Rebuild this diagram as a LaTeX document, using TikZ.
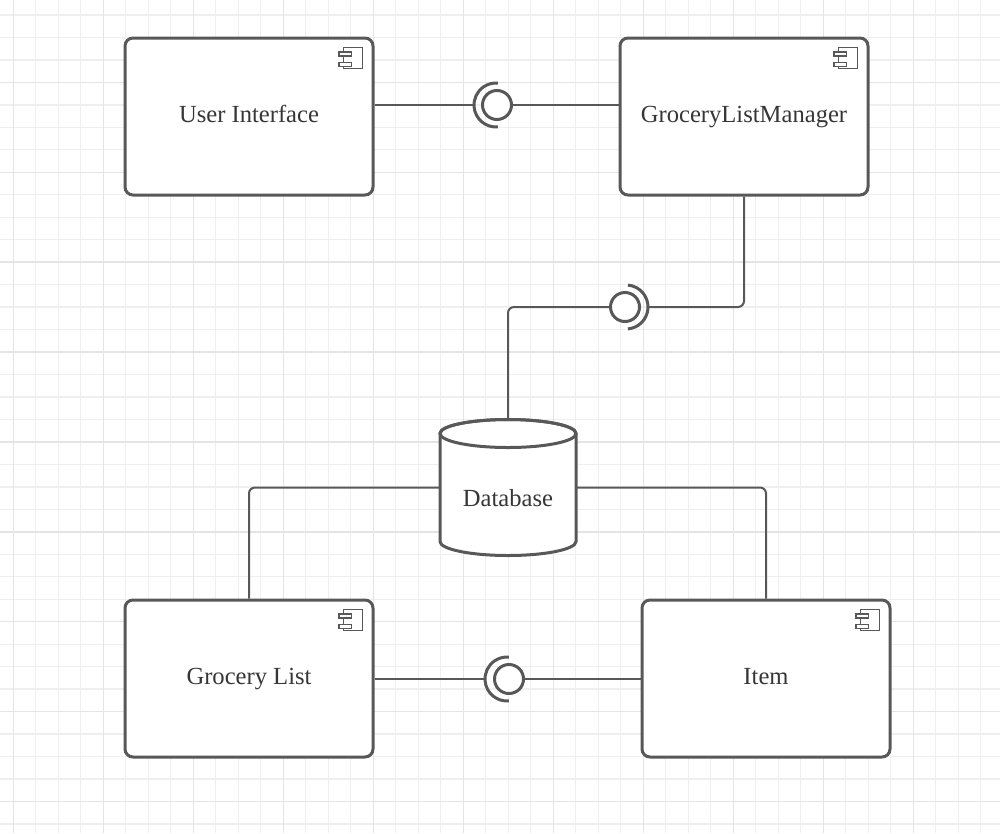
\documentclass[tikz,border=0pt]{standalone}
\usepackage{fontspec}
\setmainfont{Liberation Serif}
\usetikzlibrary{calc}
\definecolor{gridminor}{HTML}{EFEFEF}
\definecolor{gridmajor}{HTML}{E4E4E4}
\definecolor{ink}{HTML}{585858}
\definecolor{txt}{HTML}{363636}
\begin{document}
\begin{tikzpicture}[x=1pt,y=-1pt,
  comp/.style={draw=ink, line width=3pt, rounded corners=8pt, fill=white,
    minimum width=248pt, minimum height=157pt, inner sep=0pt, text=txt,
    font=\fontsize{24.6}{30}\selectfont, text height=14pt, text depth=3pt},
  dbshape/.style={draw=none, minimum width=136pt, minimum height=136pt, inner sep=0pt,
    outer sep=0pt},
  dbtext/.style={text=txt, font=\fontsize{24.6}{30}\selectfont, text height=40pt,
    text depth=3pt, inner sep=0pt},
  conn/.style={draw=ink, line width=2pt, rounded corners=6pt},
  ball/.style={circle, draw=ink, line width=3pt, minimum size=29pt, inner sep=0pt, fill=white},
  sock/.style={draw=ink, line width=3pt},
  icon/.style={draw=ink, line width=1.2pt, fill=white},
  gridmin/.style={draw=gridminor, line width=1.3pt},
  gridmaj/.style={draw=gridmajor, line width=1.5pt},
  compicon/.pic={
    \draw[icon] (-31,11) rectangle (-12,32);
    \draw[icon] (-35.5,15.5) rectangle (-23,19.5);
    \draw[icon] (-35.5,26) rectangle (-23,30);
  }]
% background and grid
\fill[white] (0,0) rectangle (1000,833);
\useasboundingbox (0,0) rectangle (1000,833);
\foreach \i in {0,...,44} \draw[gridmin] ({13.3+22.5*\i},0) -- ({13.3+22.5*\i},833);
\foreach \j in {0,...,36} \draw[gridmin] (0,{15+22.47*\j}) -- (1000,{15+22.47*\j});
\foreach \i in {0,4,...,44} \draw[gridmaj] ({13.3+22.5*\i},0) -- ({13.3+22.5*\i},833);
\foreach \j in {3,7,...,35} \draw[gridmaj] (0,{15+22.47*\j}) -- (1000,{15+22.47*\j});

% components
\node[comp] (ui) at (249,116.5) {User Interface};
\node[comp] (glm) at (744,116.5) {GroceryListManager};
\node[comp] (gl) at (249,678.5) {Grocery List};
\node[comp] (item) at (766,678.5) {Item};
\pic at (ui.north east) {compicon};
\pic at (glm.north east) {compicon};
\pic at (gl.north east) {compicon};
\pic at (item.north east) {compicon};

% database (outline area)
\node[dbshape] (db) at (508,487.5) {};

% interface 1
\node[ball] (b1) at (497,105) {};
\coordinate (s1) at ($(b1.center)+(-23,0)$);
\draw[sock] ($(b1.center)+(-1,0)+(85:22)$) arc[start angle=85, end angle=275, radius=22];
\draw[conn] (ui.east |- b1) -- (s1);
\draw[conn] (b1) -- (glm.west |- b1);

% interface 2
\node[ball] (b2) at (625,307) {};
\coordinate (s2) at ($(b2.center)+(23,0)$);
\draw[sock] ($(b2.center)+(1,0)+(-85:22)$) arc[start angle=-85, end angle=85, radius=22];
\draw[conn] (glm.south) |- (s2);
\draw[conn] (b2) -| (db.north);

% interface 3
\node[ball] (b3) at (509,679) {};
\coordinate (s3) at ($(b3.center)+(-24,0)$);
\draw[sock] ($(b3.center)+(-2,0)+(85:22)$) arc[start angle=85, end angle=275, radius=22];
\draw[conn] (gl.east |- b3) -- (s3);
\draw[conn] (b3) -- (item.west |- b3);

% database connectors
\draw[conn] (db.west) -| (gl.north);
\draw[conn] (db.east) -| (item.north);

% cylinder drawing
\filldraw[fill=white, draw=ink, line width=3pt]
  ($(db.north west)+(0,14)$) -- ($(db.south west)+(0,-14)$)
  arc[start angle=180, end angle=0, x radius=68, y radius=14]
  -- ($(db.north east)+(0,14)$)
  arc[start angle=0, end angle=-180, x radius=68, y radius=14] -- cycle;
\draw[draw=ink, line width=3pt] ($(db.north)+(0,14)$) ellipse[x radius=68, y radius=14];
\node[dbtext] (dblabel) at (db.center) {Database};
\end{tikzpicture}
\end{document}
